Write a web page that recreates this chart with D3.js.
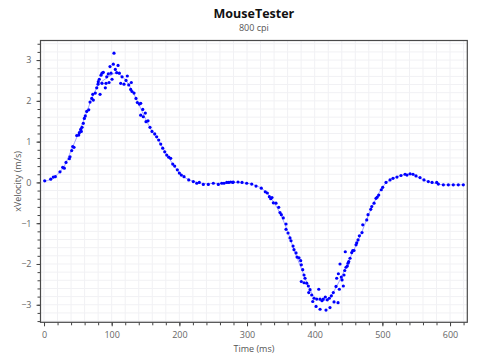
<!DOCTYPE html>
<html><head><meta charset="utf-8">
<script src="https://cdn.jsdelivr.net/npm/d3@7"></script>
<style>body{margin:0;background:#fff}svg{display:block}</style>
</head><body>
<svg id="c" width="480" height="360"></svg>
<script>
const title = "MouseTester";
const subtitle = "800 cpi";
const xLabel = "Time (ms)";
const yLabel = "xVelocity (m/s)";
const xTicks = [0, 100, 200, 300, 400, 500, 600];
const yTicks = [-3, -2, -1, 0, 1, 2, 3];

// sample times (ms)
const timeMs = [
1.0,9.9,13.7,16.7,23.6,27.6,30.0,32.5,37.4,38.4,40.9,42.4,44.3,48.3,51.3,52.2,54.2,56.2,58.1,55.1,
59.6,61.0,63.1,66.1,68.0,70.5,72.0,72.9,75.8,77.9,79.8,80.2,81.7,82.8,84.2,85.7,85.7,87.6,90.6,91.6,
92.7,95.0,96.1,97.5,99.0,100.5,102.4,103.4,105.4,107.4,109.4,111.3,113.3,115.3,118.2,121.2,123.1,125.2,128.1,129.0,
130.0,133.0,135.9,137.9,140.8,142.9,142.9,145.9,146.7,149.7,150.7,153.7,156.6,159.6,163.6,166.5,169.5,172.5,175.4,178.4,
181.3,184.3,187.2,190.2,193.1,197.0,200.0,202.9,206.9,213.8,220.6,225.7,229.5,235.4,242.8,250.2,257.6,262.6,266.0,270.0,
273.0,275.9,278.9,279.7,286.7,292.6,299.5,306.9,313.3,321.1,327.0,330.0,333.0,335.0,336.9,338.9,342.8,346.8,348.7,350.7,
353.6,357.6,357.6,360.6,363.5,365.0,368.0,369.4,372.4,373.9,376.8,379.3,380.2,382.3,384.2,385.7,380.2,384.2,388.2,390.6,
393.1,391.2,395.6,399.0,397.1,403.0,402.0,406.0,407.9,407.9,410.8,412.7,415.7,416.7,418.6,421.6,422.6,424.6,427.5,428.6,
431.5,432.5,434.5,436.4,435.0,437.4,439.3,440.4,442.3,443.3,444.4,445.2,446.3,448.2,449.2,450.3,452.2,454.7,456.2,458.1,
461.1,462.1,464.0,466.0,469.9,471.0,476.9,478.8,482.8,484.3,487.7,490.6,492.5,494.6,498.4,500.5,505.4,511.3,515.7,521.6,
527.5,533.5,536.4,540.9,545.3,549.7,555.6,561.5,567.9,573.4,580.3,582.7,590.1,597.5,604.8,612.2,619.6
];
// measured x velocity (m/s)
const xVelocity = [
0.04,0.08,0.13,0.14,0.26,0.37,0.35,0.49,0.58,0.63,0.78,0.88,0.86,1.15,1.16,1.22,1.30,1.35,1.45,1.25,
1.57,1.63,1.74,1.78,1.97,2.06,2.16,2.02,2.19,2.32,2.41,2.47,2.53,2.16,2.63,2.68,2.43,2.70,2.32,2.43,
2.59,2.66,2.45,2.84,2.68,2.53,2.90,3.17,2.77,2.69,2.87,2.68,2.43,2.59,2.41,2.50,2.61,2.39,2.28,2.45,
2.23,2.19,2.06,1.96,1.92,1.94,1.65,1.79,1.61,1.70,1.49,1.51,1.35,1.25,1.19,1.12,1.04,0.94,0.84,0.75,
0.67,0.62,0.59,0.45,0.40,0.31,0.23,0.18,0.14,0.06,0.02,-0.02,0.00,-0.05,-0.05,-0.02,-0.05,-0.02,-0.02,0.00,
0.00,0.01,0.00,0.01,0.01,0.00,-0.02,-0.04,-0.09,-0.14,-0.23,-0.26,-0.35,-0.40,-0.37,-0.50,-0.51,-0.61,-0.74,-0.79,
-0.87,-1.02,-1.15,-1.24,-1.36,-1.43,-1.56,-1.65,-1.73,-1.83,-1.85,-1.92,-2.02,-2.14,-2.27,-2.35,-2.43,-2.46,-2.47,-2.54,
-2.63,-2.70,-2.76,-2.84,-2.92,-2.86,-3.04,-2.62,-2.86,-3.11,-2.90,-2.86,-2.81,-3.13,-2.88,-2.84,-3.07,-2.78,-2.70,-2.93,
-2.55,-2.35,-2.95,-2.62,-2.24,-2.00,-2.32,-2.39,-2.54,-2.27,-2.16,-1.70,-2.08,-2.05,-1.98,-1.94,-1.86,-1.72,-1.67,-1.67,
-1.53,-1.48,-1.41,-1.31,-1.23,-1.04,-0.92,-0.79,-0.66,-0.59,-0.51,-0.39,-0.36,-0.31,-0.18,-0.12,0.00,0.06,0.10,0.13,
0.17,0.20,0.18,0.21,0.20,0.16,0.12,0.06,0.02,0.00,0.00,-0.04,-0.06,-0.06,-0.06,-0.06,-0.06
];
// smoothed trend line
const trendTime = [0,10,20,30,40,50,60,70,80,90,100,105,110,120,130,140,150,160,170,180,190,200,210,220,230,240,260,280,300,310,320,330,340,350,360,370,380,390,400,410,420,430,440,450,460,470,480,490,500,510,520,530,540,550,560,570,580,590,620];
const trendVel = [0.02,0.08,0.2,0.4,0.78,1.17,1.58,2.03,2.38,2.53,2.64,2.68,2.66,2.52,2.26,1.92,1.56,1.24,1.0,0.72,0.46,0.24,0.1,0.03,-0.01,-0.03,-0.02,0.0,-0.02,-0.06,-0.13,-0.27,-0.5,-0.8,-1.2,-1.68,-2.1,-2.52,-2.82,-2.9,-2.86,-2.62,-2.3,-1.93,-1.58,-1.2,-0.78,-0.42,-0.12,0.05,0.13,0.18,0.2,0.15,0.07,0.01,-0.03,-0.06,-0.06];

const svg = d3.select("#c");
const L = 40.5, R = 467.3, T = 40.5, B = 322.3;
const x = d3.scaleLinear().domain([-5.2, 625.5]).range([L, R]);
const y = d3.scaleLinear().domain([-3.43, 3.48]).range([B, T]);
const font = "'Open Sans', 'Noto Sans', sans-serif";

// grid
const gx = d3.range(0, 621, 20), gy = d3.range(-34, 35, 2).map(d => d / 10);
svg.append("g").selectAll("line").data(gx).join("line")
  .attr("x1", d => x(d)).attr("x2", d => x(d)).attr("y1", T).attr("y2", B)
  .attr("stroke", "#f1f1f4").attr("stroke-width", 1);
svg.append("g").selectAll("line").data(gy).join("line")
  .attr("y1", d => y(d)).attr("y2", d => y(d)).attr("x1", L).attr("x2", R)
  .attr("stroke", "#f1f1f4").attr("stroke-width", 1);

// axes
const xAxis = d3.axisBottom(x).tickValues(xTicks).tickSize(4).tickPadding(5);
const xMinor = d3.axisBottom(x).tickValues(gx).tickSize(3).tickFormat("");
const yAxis = d3.axisLeft(y).tickValues(yTicks).tickSize(4).tickPadding(5).tickFormat(d3.format("d"));
const yMinor = d3.axisLeft(y).tickValues(gy).tickSize(3).tickFormat("");

function style(g) {
  g.select(".domain").remove();
  g.selectAll("line").attr("stroke", "#444");
  g.selectAll("text").attr("fill", "#666").style("font-family", font).style("font-size", "9px");
}
svg.append("g").attr("transform", `translate(0,${B})`).call(xMinor).call(style);
svg.append("g").attr("transform", `translate(0,${B})`).call(xAxis).call(style);
svg.append("g").attr("transform", `translate(${L},0)`).call(yMinor).call(style);
svg.append("g").attr("transform", `translate(${L},0)`).call(yAxis).call(style);

// frame
svg.append("rect").attr("x", L).attr("y", T).attr("width", R - L).attr("height", B - T)
  .attr("fill", "none").attr("stroke", "#4a4a4a").attr("stroke-width", 1.2);

// trend line
const trend = trendTime.map((t, i) => [t, trendVel[i]]);
svg.append("path").datum(trend)
  .attr("d", d3.line().x(d => x(d[0])).y(d => y(d[1])).curve(d3.curveMonotoneX))
  .attr("fill", "none").attr("stroke", "#a0a0ff").attr("stroke-width", 1);

// points
const pts = timeMs.map((t, i) => [t, xVelocity[i]]);
svg.append("g").selectAll("circle").data(pts).join("circle")
  .attr("cx", d => x(d[0])).attr("cy", d => y(d[1])).attr("r", 1.6)
  .attr("fill", "#0000ff");

// titles
svg.append("text").attr("x", (L + R) / 2).attr("y", 18).attr("text-anchor", "middle")
  .style("font-family", font).style("font-size", "12.5px").style("font-weight", "bold")
  .attr("fill", "#111").text(title);
svg.append("text").attr("x", (L + R) / 2).attr("y", 31).attr("text-anchor", "middle")
  .style("font-family", font).style("font-size", "9px").attr("fill", "#555").text(subtitle);
svg.append("text").attr("x", (L + R) / 2).attr("y", 352).attr("text-anchor", "middle")
  .style("font-family", font).style("font-size", "9px").attr("fill", "#555").text(xLabel);
svg.append("text").attr("transform", `translate(21,${(T + B) / 2}) rotate(-90)`).attr("text-anchor", "middle")
  .style("font-family", font).style("font-size", "9px").attr("fill", "#555").text(yLabel);
</script>
</body></html>
